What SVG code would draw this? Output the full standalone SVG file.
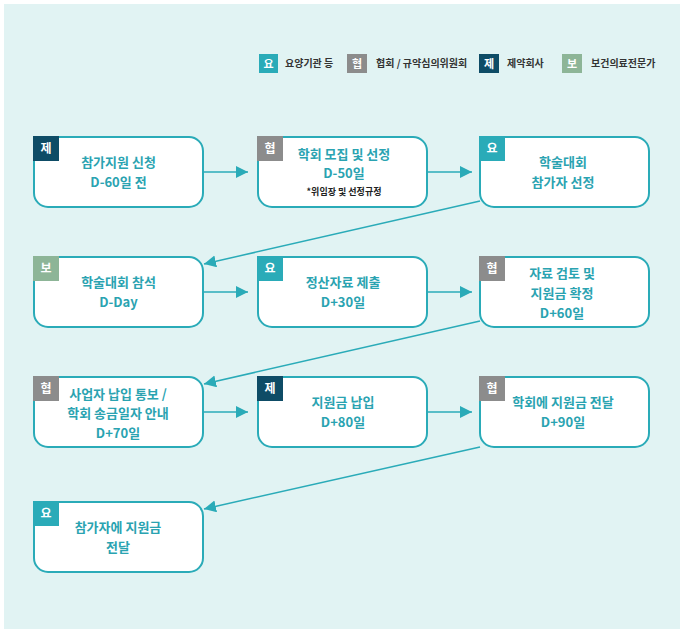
<svg xmlns="http://www.w3.org/2000/svg" width="680" height="629" viewBox="0 0 680 629">
<defs>
<style>
.bg{fill:#e1f3f3}
.node{fill:#fff;stroke:#2aabb8;stroke-width:2}
.t{font-family:"Noto Sans CJK KR","Noto Sans",sans-serif;font-size:13px;font-weight:700;fill:#2aa3b1;text-anchor:middle}
.note{font-family:"Noto Sans CJK KR","Noto Sans",sans-serif;font-size:9px;font-weight:700;fill:#222;text-anchor:middle}
.bt{font-family:"Noto Sans CJK KR","Noto Sans",sans-serif;font-size:12px;font-weight:700;fill:#fff;text-anchor:middle}
.lt{font-family:"Noto Sans CJK KR","Noto Sans",sans-serif;font-size:10px;font-weight:700;fill:#333}
.yo{fill:#2aabb8}.hy{fill:#8c8c8c}.je{fill:#0e4c66}.bo{fill:#8db597}
.c{stroke:#2aabb8;stroke-width:1.5;fill:none;marker-end:url(#ah)}
</style>
<marker id="ah" markerUnits="userSpaceOnUse" markerWidth="13" markerHeight="13" refX="12" refY="6" orient="auto">
<path d="M0,0 L12,6 L0,12 z" fill="#2aabb8"/>
</marker>
</defs>
<rect class="bg" x="4" y="4" width="676" height="625"/>

<g id="legend">
<rect class="yo" x="259" y="54" width="19" height="19"/><text class="bt" x="268.5" y="68" style="font-size:11px">요</text><text class="lt" x="285" y="67">요양기관 등</text>
<rect class="hy" x="347" y="54" width="20" height="19"/><text class="bt" x="357" y="68" style="font-size:11px">협</text><text class="lt" x="376" y="67">협회 / 규약심의위원회</text>
<rect class="je" x="479" y="54" width="20" height="19"/><text class="bt" x="489" y="68" style="font-size:11px">제</text><text class="lt" x="507" y="67">제약회사</text>
<rect class="bo" x="562" y="54" width="20" height="19"/><text class="bt" x="572" y="68" style="font-size:11px">보</text><text class="lt" x="591" y="67">보건의료전문가</text>
</g>

<g id="connectors">
<line class="c" x1="203" y1="172" x2="248" y2="172"/>
<line class="c" x1="427" y1="172" x2="472" y2="172"/>
<line class="c" x1="480" y1="201" x2="204" y2="264"/>
<line class="c" x1="203" y1="292" x2="248" y2="292"/>
<line class="c" x1="427" y1="292" x2="472" y2="292"/>
<line class="c" x1="480" y1="321" x2="204" y2="384"/>
<line class="c" x1="203" y1="412" x2="248" y2="412"/>
<line class="c" x1="427" y1="412" x2="472" y2="412"/>
<line class="c" x1="480" y1="447" x2="204" y2="509"/>
</g>

<g id="n1">
<rect class="node" x="34" y="137" width="169" height="70" rx="14"/>
<rect class="je" x="33" y="136" width="26" height="25"/><text class="bt" x="46" y="153">제</text>
<text class="t" x="118.5" y="167">참가지원 신청</text>
<text class="t" x="118.5" y="187">D-60일 전</text>
</g>
<g id="n2">
<rect class="node" x="258" y="137" width="169" height="70" rx="14"/>
<rect class="hy" x="257" y="136" width="26" height="25"/><text class="bt" x="270" y="153">협</text>
<text class="t" x="344" y="159">학회 모집 및 선정</text>
<text class="t" x="344" y="178">D-50일</text>
<text class="note" x="344" y="195">*위임장 및 선정규정</text>
</g>
<g id="n3">
<rect class="node" x="480" y="137" width="169" height="70" rx="14"/>
<rect class="yo" x="479" y="136" width="26" height="25"/><text class="bt" x="492" y="153">요</text>
<text class="t" x="563" y="167">학술대회</text>
<text class="t" x="563" y="187">참가자 선정</text>
</g>

<g id="n4">
<rect class="node" x="34" y="257" width="169" height="70" rx="14"/>
<rect class="bo" x="33" y="256" width="26" height="25"/><text class="bt" x="46" y="273">보</text>
<text class="t" x="118.5" y="287">학술대회 참석</text>
<text class="t" x="118.5" y="307">D-Day</text>
</g>
<g id="n5">
<rect class="node" x="258" y="257" width="169" height="70" rx="14"/>
<rect class="yo" x="257" y="256" width="26" height="25"/><text class="bt" x="270" y="273">요</text>
<text class="t" x="343" y="287">정산자료 제출</text>
<text class="t" x="343" y="307">D+30일</text>
</g>
<g id="n6">
<rect class="node" x="480" y="257" width="169" height="70" rx="14"/>
<rect class="hy" x="479" y="256" width="26" height="25"/><text class="bt" x="492" y="273">협</text>
<text class="t" x="562" y="278">자료 검토 및</text>
<text class="t" x="562" y="298">지원금 확정</text>
<text class="t" x="562" y="318">D+60일</text>
</g>

<g id="n7">
<rect class="node" x="34" y="377" width="169" height="70" rx="14"/>
<rect class="hy" x="33" y="376" width="26" height="25"/><text class="bt" x="46" y="393">협</text>
<text class="t" x="118" y="399">사업자 납입 통보 /</text>
<text class="t" x="118" y="418">학회 송금일자 안내</text>
<text class="t" x="118" y="438">D+70일</text>
</g>
<g id="n8">
<rect class="node" x="258" y="377" width="169" height="70" rx="14"/>
<rect class="je" x="257" y="376" width="26" height="25"/><text class="bt" x="270" y="393">제</text>
<text class="t" x="343" y="407">지원금 납입</text>
<text class="t" x="343" y="427">D+80일</text>
</g>
<g id="n9">
<rect class="node" x="480" y="377" width="169" height="70" rx="14"/>
<rect class="hy" x="479" y="376" width="26" height="25"/><text class="bt" x="492" y="393">협</text>
<text class="t" x="563" y="407">학회에 지원금 전달</text>
<text class="t" x="563" y="427">D+90일</text>
</g>

<g id="n10">
<rect class="node" x="34" y="502" width="169" height="70" rx="14"/>
<rect class="yo" x="33" y="501" width="26" height="25"/><text class="bt" x="46" y="518">요</text>
<text class="t" x="118" y="532">참가자에 지원금</text>
<text class="t" x="118" y="552">전달</text>
</g>
</svg>
